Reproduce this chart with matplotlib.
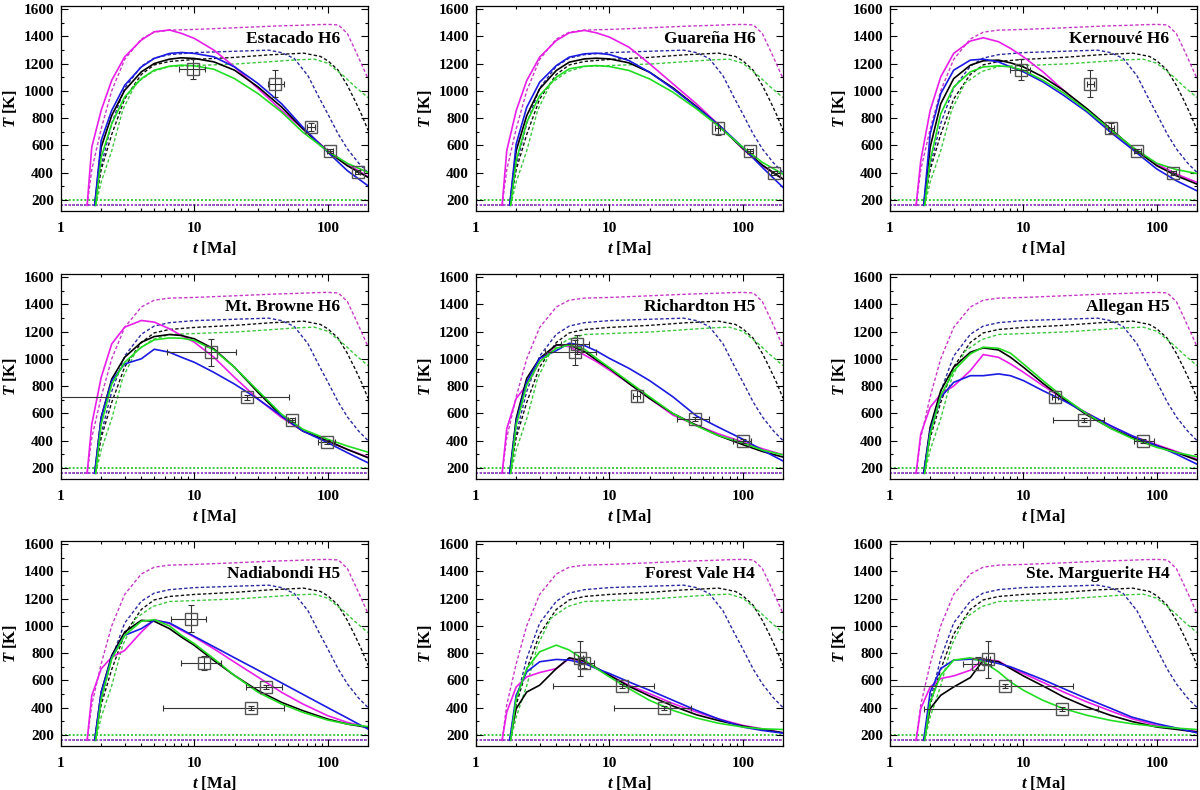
import numpy as np
import matplotlib.pyplot as plt
from matplotlib.ticker import MultipleLocator

plt.rcParams['font.family'] = ['Liberation Serif', 'DejaVu Serif']
plt.rcParams['font.weight'] = 'bold'
plt.rcParams['axes.labelweight'] = 'bold'
plt.rcParams['mathtext.fontset'] = 'custom'
plt.rcParams['mathtext.it'] = 'Liberation Serif:bold:italic'
plt.rcParams['mathtext.rm'] = 'Liberation Serif:bold'

nan = np.nan

# common time grid (Ma) for the solid curves
t_grid = [1.7, 2.0, 2.4, 3, 4, 5, 6.5, 8, 10, 14, 20, 30, 45, 65, 100, 140, 200]
onset_magenta = 1.57
onset_blue = 1.79
onset_black = 1.79
onset_green = 1.82
T_start = 160

names = ['Estacado H6', 'Guareña H6', 'Kernouvé H6',
         'Mt. Browne H6', 'Richardton H5', 'Allegan H5',
         'Nadiabondi H5', 'Forest Vale H4', 'Ste. Marguerite H4']

# solid curves, one list per model per meteorite
estacado_magenta = [586, 856, 1077, 1249, 1372, 1433, 1446, 1421, 1384, 1298, 1175, 1016, 856, 721, 561, 463, 370]
estacado_blue = [nan, 635, 856, 1040, 1175, 1237, 1274, 1281, 1274, 1249, 1175, 1053, 905, 733, 549, 414, 303]
estacado_black = [nan, 586, 819, 1003, 1139, 1200, 1232, 1242, 1237, 1212, 1151, 1028, 881, 721, 554, 450, 365]
estacado_green = [nan, 512, 758, 954, 1089, 1151, 1180, 1188, 1183, 1158, 1089, 979, 844, 696, 556, 468, 401]

guarena_magenta = [560, 854, 1075, 1247, 1369, 1425, 1443, 1425, 1394, 1320, 1198, 1050, 903, 756, 573, 450, 352]
guarena_blue = [nan, 609, 879, 1063, 1185, 1247, 1271, 1276, 1266, 1222, 1136, 1014, 879, 756, 585, 438, 291]
guarena_black = [nan, 560, 818, 1014, 1149, 1210, 1234, 1239, 1234, 1205, 1136, 1021, 884, 751, 577, 455, 352]
guarena_green = [nan, 487, 769, 965, 1100, 1161, 1180, 1185, 1178, 1149, 1087, 989, 867, 744, 585, 475, 389]

kernouve_magenta = [487, 856, 1102, 1274, 1365, 1389, 1360, 1311, 1249, 1139, 1003, 856, 709, 586, 463, 389, 328]
kernouve_blue = [nan, 684, 979, 1151, 1225, 1232, 1212, 1175, 1139, 1065, 967, 844, 696, 573, 426, 340, 266]
kernouve_black = [nan, 586, 905, 1089, 1188, 1220, 1225, 1205, 1175, 1102, 1003, 868, 721, 586, 450, 377, 315]
kernouve_green = [nan, 487, 831, 1028, 1139, 1175, 1183, 1175, 1151, 1077, 984, 856, 714, 590, 468, 422, 393]

browne_magenta = [519, 863, 1109, 1232, 1281, 1269, 1220, 1171, 1121, 1011, 863, 704, 569, 470, 397, 335, 279]
browne_blue = [nan, 569, 839, 962, 1000, 1070, 1048, 1011, 974, 900, 814, 704, 581, 470, 384, 311, 237]
browne_black = [nan, 569, 851, 1011, 1121, 1163, 1178, 1171, 1146, 1072, 937, 753, 581, 470, 397, 335, 274]
browne_green = [nan, 519, 814, 974, 1085, 1139, 1153, 1151, 1134, 1065, 937, 765, 593, 483, 409, 360, 315]

richardton_magenta = [487, 709, 807, 979, 1102, 1089, 1028, 979, 917, 819, 709, 586, 512, 451, 389, 340, 296]
richardton_blue = [nan, 537, 831, 1003, 1060, 1114, 1097, 1057, 1003, 930, 840, 720, 580, 500, 410, 330, 250]
richardton_black = [nan, 561, 856, 1003, 1102, 1102, 1053, 991, 930, 819, 709, 598, 512, 438, 370, 320, 279]
richardton_green = [nan, 512, 807, 979, 1077, 1102, 1070, 1003, 935, 831, 721, 598, 507, 438, 382, 330, 295]

allegan_magenta = [448, 644, 740, 800, 913, 1031, 1011, 962, 901, 803, 705, 600, 509, 435, 369, 320, 264]
allegan_blue = [nan, 472, 717, 827, 876, 876, 889, 876, 840, 766, 693, 600, 509, 435, 362, 300, 227]
allegan_black = [nan, 497, 766, 938, 1048, 1080, 1065, 1011, 938, 820, 705, 587, 492, 423, 362, 313, 256]
allegan_green = [nan, 448, 729, 913, 1036, 1085, 1077, 1041, 962, 840, 717, 595, 489, 416, 350, 313, 281]

nadiabondi_magenta = [487, 684, 770, 819, 954, 1045, 1016, 967, 917, 831, 733, 623, 512, 426, 340, 291, 254]
nadiabondi_blue = [nan, 512, 770, 930, 979, 1040, 1021, 974, 922, 846, 765, 674, 581, 497, 399, 323, 242]
nadiabondi_black = [nan, 512, 782, 954, 1040, 1033, 979, 917, 856, 745, 635, 524, 438, 377, 315, 279, 254]
nadiabondi_green = [nan, 463, 758, 930, 1033, 1045, 999, 930, 868, 758, 635, 512, 426, 365, 308, 279, 261]

forestvale_magenta = [367, 551, 625, 657, 686, 760, 736, 686, 637, 564, 502, 429, 367, 318, 269, 244, 215]
forestvale_blue = [nan, 490, 662, 736, 753, 748, 723, 686, 650, 588, 527, 453, 379, 318, 257, 232, 212]
forestvale_black = [nan, 392, 514, 564, 686, 765, 741, 691, 637, 556, 485, 411, 347, 306, 264, 239, 215]
forestvale_green = [nan, 465, 686, 809, 858, 822, 748, 686, 625, 539, 453, 379, 323, 286, 257, 244, 239]

marguerite_magenta = [392, 551, 613, 632, 674, 755, 741, 690, 650, 585, 514, 441, 375, 318, 269, 245, 225]
marguerite_blue = [nan, 514, 686, 748, 755, 748, 723, 699, 662, 605, 539, 465, 395, 330, 281, 250, 215]
marguerite_black = [nan, 392, 490, 551, 620, 748, 736, 686, 632, 559, 478, 404, 343, 298, 257, 240, 220]
marguerite_green = [nan, 441, 637, 748, 765, 736, 662, 588, 527, 453, 392, 343, 306, 281, 261, 249, 239]

magenta_sets = [estacado_magenta, guarena_magenta, kernouve_magenta, browne_magenta, richardton_magenta,
                allegan_magenta, nadiabondi_magenta, forestvale_magenta, marguerite_magenta]
blue_sets = [estacado_blue, guarena_blue, kernouve_blue, browne_blue, richardton_blue,
             allegan_blue, nadiabondi_blue, forestvale_blue, marguerite_blue]
black_sets = [estacado_black, guarena_black, kernouve_black, browne_black, richardton_black,
              allegan_black, nadiabondi_black, forestvale_black, marguerite_black]
green_sets = [estacado_green, guarena_green, kernouve_green, browne_green, richardton_green,
              allegan_green, nadiabondi_green, forestvale_green, marguerite_green]

# dashed curves (same in every panel)
dash_magenta_t = [1.57, 1.7, 2.0, 2.4, 3, 4, 5, 6.5, 10, 20, 40, 60, 80, 100, 120, 140, 160, 180, 200]
dash_magenta_T = [160, 420, 720, 1000, 1230, 1380, 1430, 1445, 1450, 1462, 1475, 1480, 1485, 1487, 1483, 1420, 1300, 1190, 1090]
dash_blue_t = [1.78, 2.0, 2.4, 3, 4, 5, 6.5, 10, 20, 36, 45, 56, 71, 86, 100, 120, 141, 170, 200]
dash_blue_T = [160, 450, 760, 1020, 1180, 1240, 1265, 1280, 1290, 1298, 1280, 1237, 1110, 950, 830, 680, 570, 470, 400]
dash_black_t = [1.8, 2.0, 2.4, 3, 4, 5, 6.5, 10, 20, 37, 66, 88, 100, 119, 140, 159, 180, 200]
dash_black_T = [160, 420, 680, 940, 1120, 1190, 1215, 1230, 1245, 1264, 1276, 1252, 1220, 1153, 1040, 932, 820, 711]
dash_green_t = [1.82, 2.0, 2.4, 2.9, 3.64, 4.86, 6.5, 20.8, 59, 79, 100, 133, 160, 200]
dash_green_T = [160, 330, 560, 858, 1055, 1141, 1178, 1197, 1227, 1232, 1202, 1104, 1030, 950]

# flat lines near the bottom
base_magenta = 164
base_blue = 160
base_black = 161
base_green = 198

# measured points: age, temperature, age range, temperature error
pts_t = [[9.7, 40.3, 75, 104, 167], [65, 114, 172], [9.55, 31.8, 45.5, 71, 133],
         [13.4, 24.6, 53.6, 98], [5.68, 5.5, 16, 44, 100], [17.3, 28.6, 78.9],
         [9.5, 11.7, 34.4, 26.4], [6.06, 6.5, 12.5, 25.8], [4.6, 5.4, 7.3, 19.3]]
pts_T = [[1158, 1053, 733, 556, 401], [724, 555, 396], [1156, 1053, 728, 556, 397],
         [1048, 716, 549, 392], [1107, 1048, 728, 561, 397], [717, 553, 394],
         [1053, 726, 554, 394], [760, 728, 556, 397], [723, 753, 556, 392]]
pts_tlo = [[7.7, 35.6, 70, 98, 160], [62, 108, 163], [7.9, 30.0, 43, 67, 127],
           [6.27, 0.9, 50, 85], [4.3, 3.3, 15, 32.3, 84], [16.4, 16.8, 67.5],
           [6.7, 7.9, 24.3, 5.8], [5.8, 5.95, 3.8, 10.8], [3.5, 5.2, 0.9, 1.8]]
pts_thi = [[12.0, 47, 80, 110, 175], [68, 120, 181], [11.2, 33.7, 48, 76, 140],
           [20.5, 51, 57, 113], [7.05, 8.0, 16.9, 56, 115], [18.3, 40.4, 94.8],
           [12.3, 15.9, 45, 47], [6.3, 7.65, 21.4, 40.6], [5.7, 5.6, 23.5, 36.3]]
pts_Terr = [[75, 100, 30, 15, 15], [45, 15, 15], [77, 100, 38, 15, 15],
            [100, 20, 15, 15], [70, 90, 45, 15, 15], [45, 15, 15],
            [100, 50, 15, 15], [130, 40, 15, 15], [50, 135, 15, 15]]

c_mag, c_blue, c_black, c_green = '#e81ee8', '#1a1ae0', '#000000', '#22dd22'
d_mag, d_blue, d_black, d_green = '#c838c8', '#2a2aa0', '#101010', '#3cc83c'
dash = (0, (2.4, 1.6))


def solid(onset, values):
    t = [onset] + [tt for tt, v in zip(t_grid, values) if not np.isnan(v) and tt > onset]
    T = [T_start] + [v for tt, v in zip(t_grid, values) if not np.isnan(v) and tt > onset]
    return t, T


fig = plt.figure(figsize=(12, 7.9), dpi=100)
col_left = [61, 476, 890]
row_top = [6, 274, 541]

for i, name in enumerate(names):
    r, c = divmod(i, 3)
    ax = fig.add_axes([col_left[c] / 1200, 1 - (row_top[r] + 205) / 790, 307 / 1200, 205 / 790])

    for yb, col in [(base_green, d_green), (base_black, d_black), (base_blue, d_blue), (base_magenta, '#b050d8')]:
        ax.axhline(yb, color=col, lw=1.4, linestyle=(0, (1, 1)), zorder=1)

    ax.plot(dash_magenta_t, dash_magenta_T, color=d_mag, lw=1.0, linestyle=dash, zorder=2)
    ax.plot(dash_blue_t, dash_blue_T, color=d_blue, lw=1.0, linestyle=dash, zorder=2)
    ax.plot(dash_black_t, dash_black_T, color=d_black, lw=1.0, linestyle=dash, zorder=2)
    ax.plot(dash_green_t, dash_green_T, color=d_green, lw=1.0, linestyle=dash, zorder=2)

    ax.plot(*solid(onset_magenta, magenta_sets[i]), color=c_mag, lw=1.2, zorder=3)
    ax.plot(*solid(onset_black, black_sets[i]), color=c_black, lw=1.2, zorder=3)
    ax.plot(*solid(onset_blue, blue_sets[i]), color=c_blue, lw=1.2, zorder=3)
    ax.plot(*solid(onset_green, green_sets[i]), color=c_green, lw=1.2, zorder=3)

    tp = np.array(pts_t[i])
    xerr = [tp - np.array(pts_tlo[i]), np.array(pts_thi[i]) - tp]
    ax.errorbar(tp, pts_T[i], xerr=xerr, yerr=pts_Terr[i], fmt='none', ecolor='#333333',
                elinewidth=0.8, capsize=2, capthick=0.8, zorder=4)
    ax.plot(tp, pts_T[i], 's', ms=8, mfc='none', mec='#555555', mew=1.0, zorder=5)

    ax.text(0.91, 0.84, name, transform=ax.transAxes, ha='right', va='center',
            fontsize=12.5, fontweight='bold')

    ax.set_xscale('log')
    ax.set_xlim(1, 200)
    ax.set_ylim(118, 1622)
    ax.set_xticks([1, 10, 100])
    ax.set_xticklabels(['1', '10', '100'])
    ax.set_xticks([m * d for d in (1, 10) for m in range(2, 10)] + [200], minor=True)
    ax.set_yticks(range(200, 1601, 200))
    ax.yaxis.set_minor_locator(MultipleLocator(100))
    ax.tick_params(which='both', direction='in', top=True, right=True, labelsize=11, width=0.8)
    ax.tick_params(which='major', length=5, pad=5)
    ax.tick_params(axis='x', which='major', pad=8)
    ax.tick_params(which='minor', length=2.5)
    plt.setp(ax.get_xticklabels() + ax.get_yticklabels(), fontweight='bold')
    for s in ax.spines.values():
        s.set_linewidth(0.9)
    ax.set_xlabel(r'$t$ [Ma]', fontsize=12, fontweight='bold', labelpad=3)
    ax.set_ylabel(r'$T$ [K]', fontsize=12, fontweight='bold', labelpad=3)

fig.savefig('out.png', dpi=100)
